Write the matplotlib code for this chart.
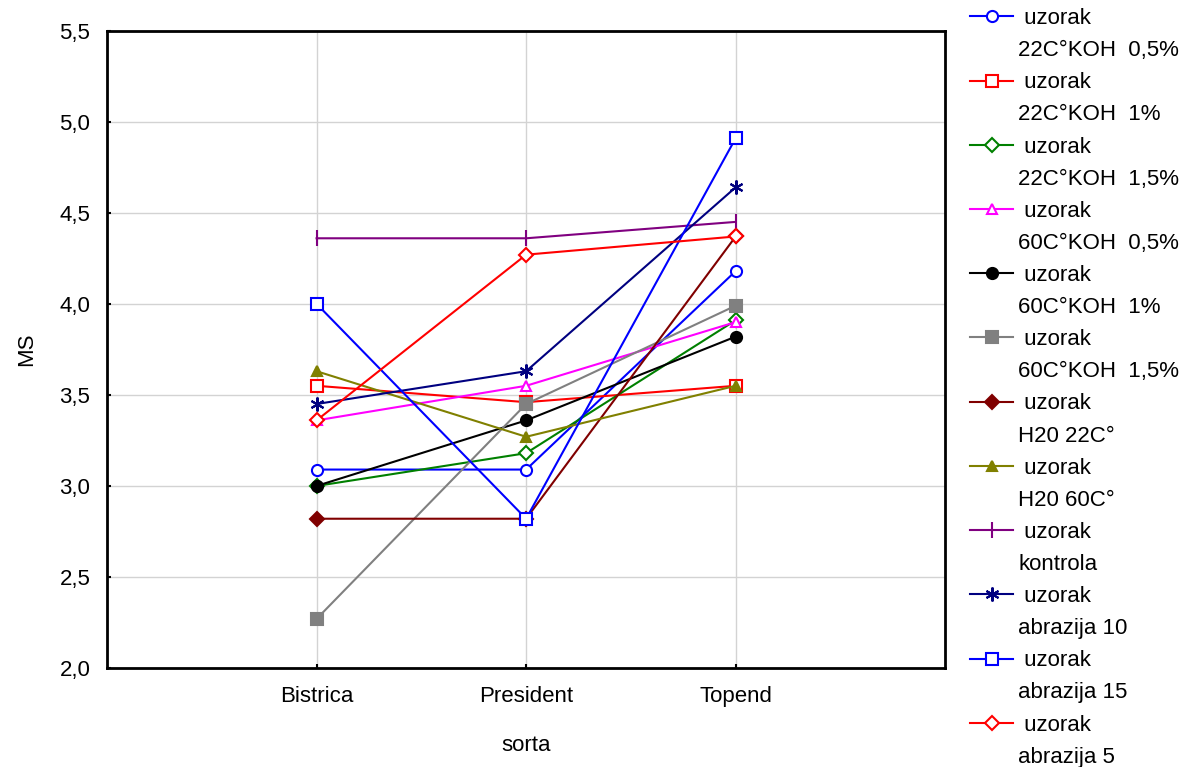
import matplotlib
matplotlib.use('Agg')
import matplotlib.pyplot as plt
from matplotlib.lines import Line2D
from matplotlib.ticker import FuncFormatter

plt.rcParams['font.family'] = ['Liberation Sans', 'DejaVu Sans']

sorte = ['Bistrica', 'President', 'Topend']

uzorci = ['22C°KOH  0,5%', '22C°KOH  1%', '22C°KOH  1,5%',
          '60C°KOH  0,5%', '60C°KOH  1%', '60C°KOH  1,5%',
          'H20 22C°', 'H20 60C°', 'kontrola',
          'abrazija 10', 'abrazija 15', 'abrazija 5']

koh22_05 = [3.09, 3.09, 4.18]
koh22_1 = [3.55, 3.46, 3.55]
koh22_15 = [3.00, 3.18, 3.91]
koh60_05 = [3.36, 3.55, 3.90]
koh60_1 = [3.00, 3.36, 3.82]
koh60_15 = [2.27, 3.45, 3.99]
h2o_22 = [2.82, 2.82, 4.37]
h2o_60 = [3.63, 3.27, 3.55]
kontrola = [4.36, 4.36, 4.45]
abrazija10 = [3.45, 3.63, 4.64]
abrazija15 = [4.00, 2.82, 4.91]
abrazija5 = [3.36, 4.27, 4.37]

serije = [koh22_05, koh22_1, koh22_15, koh60_05, koh60_1, koh60_15,
          h2o_22, h2o_60, kontrola, abrazija10, abrazija15, abrazija5]

# colour, marker, filled?
stilovi = [('#0000FF', 'o', False), ('#FF0000', 's', False), ('#008000', 'D', False),
           ('#FF00FF', '^', False), ('#000000', 'o', True), ('#808080', 's', True),
           ('#800000', 'D', True), ('#808000', '^', True), ('#800080', '|', True),
           ('#000080', '*', False), ('#0000FF', 's', False), ('#FF0000', 'D', False)]

fig = plt.figure(figsize=(11.89, 7.67), dpi=100)
ax = fig.add_axes([0.09, 0.129, 0.705, 0.831])

x = list(range(len(sorte)))
handles = []
for vals, (boja, mk, pun) in zip(serije, stilovi):
    size = 8 if mk in ('s', 'o') else 7
    if mk == '*':
        mk = (6, 2, 0)
        size = 10
    if mk == '|':
        size = 12
    ln, = ax.plot(x, vals, color=boja, marker=mk, markersize=size, linewidth=1.5,
                  markerfacecolor=boja if pun else 'white', markeredgecolor=boja,
                  markeredgewidth=1.5, zorder=3)
    handles.append(ln)

ax.set_xlim(-1, 3)
ax.set_ylim(2.0, 5.5)
ax.set_xticks(x)
ax.set_xticklabels(sorte)
ax.set_yticks([2.0, 2.5, 3.0, 3.5, 4.0, 4.5, 5.0, 5.5])
ax.yaxis.set_major_formatter(FuncFormatter(lambda v, p: f'{v:.1f}'.replace('.', ',')))
ax.grid(True, color='#d3d3d3', linewidth=1)
ax.set_axisbelow(True)
ax.tick_params(direction='in', length=3, width=1.5, labelsize=16)
ax.tick_params(axis='y', pad=12)
ax.tick_params(axis='x', pad=13)
for s in ax.spines.values():
    s.set_linewidth(2)

ax.set_xlabel('sorta', fontsize=16, labelpad=20)
ax.set_ylabel('MS', fontsize=16, labelpad=16)

# legend: handle on the first line, second line without a handle
leg_h, leg_l = [], []
prazno = Line2D([], [], linestyle='none', marker=None)
for h, naziv in zip(handles, uzorci):
    leg_h += [h, prazno]
    leg_l += [' uzorak', naziv]
fig.legend(leg_h, leg_l, loc='upper left', bbox_to_anchor=(0.8083, 1.001),
           frameon=False, fontsize=16, labelspacing=0.5, handlelength=1.95,
           handletextpad=0.23, borderaxespad=0)

plt.savefig('out.png', dpi=100)
